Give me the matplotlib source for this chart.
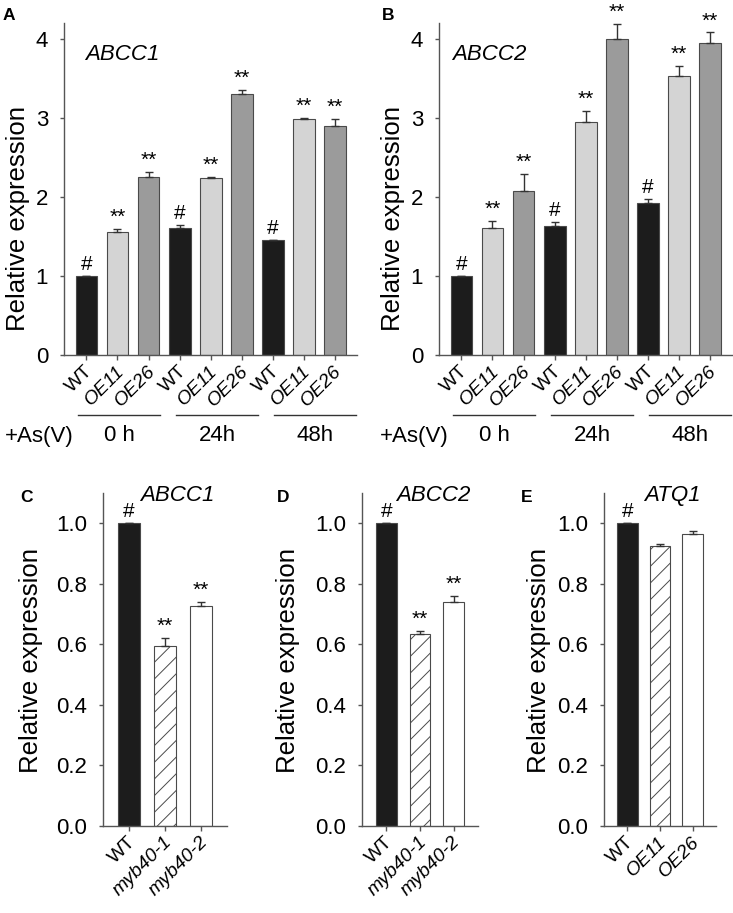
import matplotlib
matplotlib.use('Agg')
import matplotlib.pyplot as plt
import matplotlib.transforms as mtransforms
import numpy as np

plt.rcParams['font.family'] = ['Liberation Sans', 'DejaVu Sans']
plt.rcParams['hatch.linewidth'] = 0.7
plt.rcParams['hatch.color'] = '#333333'

# ---- data ----
time_groups = ['0 h', '24h', '48h']
lines = ['WT', 'OE11', 'OE26']

abcc1_mean = [1.00, 1.55, 2.25, 1.61, 2.24, 3.30, 1.45, 2.99, 2.90]
abcc1_err = [0.00, 0.05, 0.06, 0.03, 0.01, 0.05, 0.01, 0.01, 0.09]
abcc1_sig = ['#', '**', '**', '#', '**', '**', '#', '**', '**']

abcc2_mean = [1.00, 1.61, 2.08, 1.63, 2.95, 4.00, 1.92, 3.53, 3.95]
abcc2_err = [0.00, 0.08, 0.21, 0.05, 0.14, 0.19, 0.05, 0.13, 0.13]
abcc2_sig = ['#', '**', '**', '#', '**', '**', '#', '**', '**']

mut_labels = ['WT', 'myb40-1', 'myb40-2']
c_mean = [1.00, 0.595, 0.728]
c_err = [0.00, 0.026, 0.011]
c_sig = ['#', '**', '**']

d_mean = [1.00, 0.635, 0.741]
d_err = [0.00, 0.008, 0.019]
d_sig = ['#', '**', '**']

oe_labels = ['WT', 'OE11', 'OE26']
e_mean = [1.00, 0.926, 0.963]
e_err = [0.00, 0.004, 0.013]
e_sig = ['#', '', '']

W, H = 733, 913
fig = plt.figure(figsize=(W / 100, H / 100), dpi=100)


def box(left, top, right, bottom):
    # pixel box -> figure fraction rect
    return [left / W, 1 - bottom / H, (right - left) / W, (bottom - top) / H]


def fx(x):
    return x / W


def fy(y):
    return 1 - y / H


spine_c = '#555555'
edge_c = '#4a4a4a'


def style_axes(ax):
    for s in ['top', 'right']:
        ax.spines[s].set_visible(False)
    for s in ['left', 'bottom']:
        ax.spines[s].set_color(spine_c)
        ax.spines[s].set_linewidth(1.0)
    ax.tick_params(axis='y', direction='out', length=3, width=1, color=spine_c,
                   labelsize=16, pad=8.5)
    ax.tick_params(axis='x', direction='out', length=3.5, width=1, color=spine_c,
                   labelsize=14, pad=6)


def xlabels(ax, labels, italic):
    ax.set_xticklabels(labels, rotation=45, ha='right', va='center',
                       rotation_mode='anchor')
    off = mtransforms.ScaledTranslation(4 / 100, 0, fig.dpi_scale_trans)
    for lab, it in zip(ax.get_xticklabels(), italic):
        lab.set_transform(lab.get_transform() + off)
        if it:
            lab.set_style('italic')


def sig_marks(ax, x, tops, marks):
    for xi, t, m in zip(x, tops, marks):
        if m:
            ax.annotate(m, (xi, t), xytext=(0, 1.5), textcoords='offset points',
                        ha='center', va='bottom', fontsize=15)


# ---- top panels A, B ----
top_colors = ['#1c1c1c', '#d4d4d4', '#9b9b9b']
top_panels = [
    (box(64, 23, 357, 355), abcc1_mean, abcc1_err, abcc1_sig, 'ABCC1', 'A', 3, 5, 85),
    (box(439, 23, 732, 355), abcc2_mean, abcc2_err, abcc2_sig, 'ABCC2', 'B', 382, 380, 452),
]
for rect, mean, err, sig, gene, letter, lx, asx, gx in top_panels:
    ax = fig.add_axes(rect)
    x = np.arange(len(mean))
    cols = [top_colors[i % 3] for i in range(len(mean))]
    ax.bar(x, mean, width=0.7, color=cols, edgecolor=edge_c, linewidth=0.8, zorder=2)
    ax.errorbar(x, mean, yerr=[np.zeros(len(err)), err], fmt='none', ecolor='#333333',
                elinewidth=1, capsize=3, capthick=1, zorder=3)
    sig_marks(ax, x, np.array(mean) + np.array(err), sig)
    ax.set_xlim(-0.72, 8.7)
    ax.set_ylim(0, 4.2)
    ax.set_yticks([0, 1, 2, 3, 4])
    style_axes(ax)
    ax.set_xticks(x)
    xlabels(ax, [lines[i % 3] for i in x], [i % 3 != 0 for i in x])

    # time group underlines and labels
    tr = mtransforms.blended_transform_factory(ax.transData, ax.transAxes)
    for g, name in enumerate(time_groups):
        start = -0.26 + 3.15 * g
        end = start + 2.63
        ax.plot([start, end], [-0.181, -0.181], color='#333333', lw=1,
                transform=tr, clip_on=False)
        ax.text((start + end) / 2, -0.243, name, transform=tr, ha='center',
                va='center', fontsize=16)
    fig.text(fx(asx), fy(436), '+As(V)', ha='left', va='center', fontsize=16)
    fig.text(fx(gx), fy(55), gene, ha='left', va='center', fontsize=16, style='italic')
    fig.text(fx(lx), fy(16), letter, ha='left', va='center', fontsize=12.5,
             fontweight='bold')
    fig.text(fx(rect[0] * W - 46), fy(218), 'Relative expression', rotation=90,
             ha='center', va='center', fontsize=18.5)

# ---- bottom panels C, D, E ----
bottom_panels = [
    (box(103, 493, 227, 826), c_mean, c_err, c_sig, mut_labels, 'ABCC1', 'C', 20, 177, 31),
    (box(362, 493, 478, 826), d_mean, d_err, d_sig, mut_labels, 'ABCC2', 'D', 277, 433, 288),
    (box(604, 493, 716, 826), e_mean, e_err, e_sig, oe_labels, 'ATQ1', 'E', 521, 672, 539),
]
for rect, mean, err, sig, labels, gene, letter, lx, gx, ylx in bottom_panels:
    ax = fig.add_axes(rect)
    x = np.arange(len(mean))
    bars = ax.bar(x, mean, width=0.62, color=['#1c1c1c', 'white', 'white'],
                  edgecolor=edge_c, linewidth=0.8, zorder=2)
    bars[1].set_hatch('//')
    ax.errorbar(x, mean, yerr=[np.zeros(len(err)), err], fmt='none', ecolor='#333333',
                elinewidth=1, capsize=3, capthick=1, zorder=3)
    sig_marks(ax, x, np.array(mean) + np.array(err), sig)
    ax.set_xlim(-0.72, 2.72)
    ax.set_ylim(0, 1.1)
    ax.set_yticks([0.0, 0.2, 0.4, 0.6, 0.8, 1.0])
    ax.set_yticklabels(['0.0', '0.2', '0.4', '0.6', '0.8', '1.0'])
    style_axes(ax)
    ax.set_xticks(x)
    xlabels(ax, labels, [False, True, True])
    fig.text(fx(gx), fy(495), gene, ha='center', va='center', fontsize=16, style='italic')
    fig.text(fx(lx), fy(497), letter, ha='left', va='center', fontsize=12.5,
             fontweight='bold')
    fig.text(fx(ylx), fy(660), 'Relative expression', rotation=90,
             ha='center', va='center', fontsize=18.5)

fig.savefig('out.png', dpi=100)
